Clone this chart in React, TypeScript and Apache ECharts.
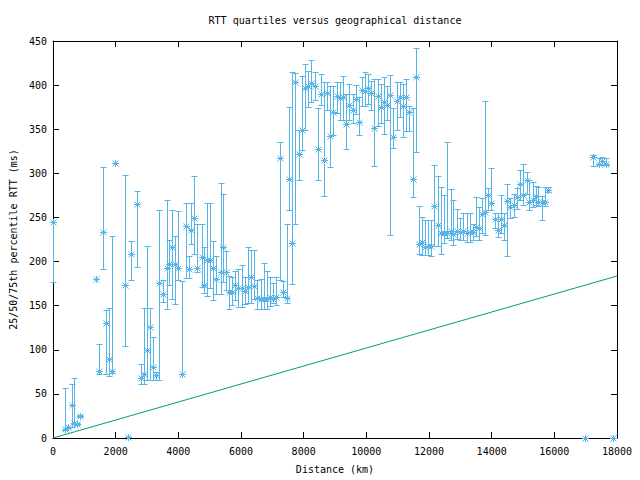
import React, { useEffect, useRef } from "react";
import * as echarts from "echarts";

// Distance (km), median RTT, 25th percentile, 75th percentile (ms)
const distances = [
  0, 380, 490, 596, 681, 756, 862, 1372, 1479, 1607, 1692, 1787, 1883, 1990, 2298, 2404, 2500, 2692, 2809, 2915,
  3010, 3107, 3203, 3298, 3394, 3511, 3628, 3713, 3808, 3904, 4000, 4128, 4234, 4330, 4415, 4511, 4607, 4745, 4820, 4926,
  5011, 5117, 5203, 5352, 5437, 5522, 5628, 5724, 5809, 5915, 6022, 6128, 6224, 6330, 6425, 6521, 6639, 6725, 6821, 6916,
  7032, 7118, 7250, 7351, 7458, 7540, 7640, 7735, 7852, 7948, 8054, 8150, 8245, 8352, 8468, 8564, 8660, 8755, 8851, 8947,
  9055, 9160, 9256, 9352, 9458, 9566, 9662, 9767, 9873, 9969, 10065, 10160, 10256, 10364, 10460, 10565, 10661, 10767, 10862, 10970,
  11075, 11171, 11267, 11373, 11480, 11596, 11692, 11787, 11883, 11979, 12075, 12170, 12288, 12384, 12490, 12585, 12693, 12777, 12884, 12990,
  13096, 13203, 13309, 13395, 13500, 13586, 13692, 13798, 13894, 13990, 14108, 14204, 14300, 14406, 14502, 14597, 14704, 14810, 14916, 15012,
  15119, 15203, 15310, 15416, 15490, 15598, 15703, 15809, 16980, 17245, 17437, 17532, 17640, 17874,
];
const medians = [
  245, 10, 12, 37, 17, 16, 25, 180, 76, 234, 130, 89, 76, 312, 173, 1, 208, 265, 68, 73,
  100, 126, 80, 71, 176, 163, 193, 197, 216, 197, 193, 73, 240, 192, 236, 249, 193, 205, 173, 202,
  202, 193, 180, 188, 216, 188, 165, 165, 173, 170, 170, 167, 171, 183, 172, 159, 158, 158, 158, 160,
  158, 160, 317, 165, 159, 294, 221, 404, 322, 349, 397, 399, 402, 399, 328, 390, 315, 391, 342, 369,
  388, 385, 386, 356, 378, 372, 384, 358, 394, 393, 397, 391, 351, 388, 375, 381, 377, 389, 341, 382,
  387, 376, 386, 369, 294, 409, 220, 222, 216, 218, 218, 263, 241, 232, 232, 232, 235, 231, 235, 233,
  235, 232, 233, 233, 239, 238, 254, 256, 275, 266, 248, 236, 248, 241, 269, 262, 264, 273, 288, 275,
  293, 267, 270, 274, 268, 267, 267, 281, 0, 318, 311, 314, 311, 0,
];
const q25 = [
  177, 9, 11, 12, 16, 15, 24, 180, 72, 192, 72, 70, 74, 312, 104, 1, 179, 194, 61, 61,
  66, 66, 66, 66, 66, 154, 146, 173, 157, 152, 179, 73, 181, 181, 220, 209, 188, 171, 164, 161,
  170, 156, 163, 163, 177, 168, 146, 151, 156, 149, 149, 152, 153, 153, 157, 146, 146, 146, 146, 150,
  153, 151, 179, 160, 153, 258, 175, 243, 293, 326, 349, 375, 381, 383, 293, 377, 274, 372, 307, 343,
  368, 361, 361, 328, 360, 357, 367, 343, 376, 376, 379, 372, 308, 354, 357, 345, 361, 230, 329, 349,
  364, 341, 348, 348, 273, 324, 209, 207, 207, 207, 206, 218, 218, 208, 221, 227, 225, 219, 226, 224,
  224, 222, 222, 224, 229, 225, 232, 230, 258, 259, 238, 228, 232, 224, 206, 249, 251, 260, 270, 264,
  277, 258, 262, 264, 263, 247, 263, 279, 0, 308, 309, 310, 309, 0,
];
const q75 = [
  245, 57, 13, 61, 68, 17, 26, 180, 106, 307, 145, 147, 229, 312, 298, 1, 223, 280, 84, 147,
  218, 147, 114, 75, 259, 179, 270, 224, 258, 229, 257, 178, 266, 206, 266, 297, 243, 243, 217, 266,
  266, 223, 206, 289, 277, 212, 184, 183, 189, 191, 196, 183, 217, 213, 213, 179, 180, 198, 189, 182,
  176, 183, 335, 178, 243, 375, 415, 414, 349, 410, 424, 416, 428, 415, 374, 413, 403, 403, 399, 399,
  403, 403, 410, 390, 401, 390, 400, 387, 409, 415, 413, 405, 407, 407, 401, 409, 399, 411, 374, 403,
  403, 401, 407, 376, 374, 442, 263, 251, 247, 247, 247, 310, 297, 285, 276, 335, 282, 270, 260, 249,
  255, 255, 255, 243, 273, 262, 272, 382, 283, 306, 255, 255, 276, 255, 288, 272, 277, 283, 304, 311,
  302, 292, 290, 286, 284, 274, 284, 284, 0, 321, 317, 318, 317, 0,
];

// Reference line (speed-of-light-in-fibre bound)
const lineX = [0, 18000];
const lineY = [0, 183.6];

const xTicks = { min: 0, max: 18000, interval: 2000 };
const yTicks = { min: 0, max: 450, interval: 50 };

const BLUE = "#56b4e9";
const GREEN = "#009e73";
const FONT = "DejaVu Sans Mono";

export default function App() {
  const ref = useRef<HTMLDivElement>(null);
  useEffect(() => {
    if (!ref.current) return;
    const chart = echarts.init(ref.current, undefined, { renderer: "svg" });
    const errData = distances.map((d, i) => [d, medians[i], q25[i], q75[i]]);
    const lineData = lineX.map((x, i) => [x, lineY[i]]);

    const axisCommon = {
      axisLine: { show: true, onZero: false, lineStyle: { color: "#000", width: 1 } },
      axisTick: { show: true, inside: true, length: 6, lineStyle: { color: "#000" } },
      splitLine: { show: false },
    };

    const renderItem = (params: any, api: any) => {
      const x = api.value(0);
      const m = api.value(1);
      const lo = api.value(2);
      const hi = api.value(3);
      const pm = api.coord([x, m]);
      const pl = api.coord([x, lo]);
      const ph = api.coord([x, hi]);
      const cx = Math.round(pm[0]) + 0.5;
      const cy = Math.round(pm[1]) + 0.5;
      const yl = Math.round(pl[1]) + 0.5;
      const yh = Math.round(ph[1]) + 0.5;
      const cap = 3;
      const r = 3.5;
      const st = { stroke: BLUE, lineWidth: 1, fill: null };
      const children: any[] = [
        { type: "line", shape: { x1: cx, y1: yl, x2: cx, y2: yh }, style: st },
        { type: "line", shape: { x1: cx - cap, y1: yl, x2: cx + cap, y2: yl }, style: st },
        { type: "line", shape: { x1: cx - cap, y1: yh, x2: cx + cap, y2: yh }, style: st },
        { type: "line", shape: { x1: cx - r, y1: cy, x2: cx + r, y2: cy }, style: st },
        { type: "line", shape: { x1: cx, y1: cy - r, x2: cx, y2: cy + r }, style: st },
        { type: "line", shape: { x1: cx - r + 0.5, y1: cy - r + 0.5, x2: cx + r - 0.5, y2: cy + r - 0.5 }, style: st },
        { type: "line", shape: { x1: cx - r + 0.5, y1: cy + r - 0.5, x2: cx + r - 0.5, y2: cy - r + 0.5 }, style: st },
      ];
      return { type: "group", children };
    };

    chart.setOption({
      animation: false,
      backgroundColor: "#fff",
      textStyle: { fontFamily: FONT },
      grid: { left: 53, right: 23, top: 41, bottom: 42, containLabel: false },
      graphic: [
        {
          type: "text",
          x: 335,
          y: 20,
          style: {
            text: "RTT quartiles versus geographical distance",
            font: `10px '${FONT}'`,
            fill: "#000",
            textAlign: "center",
            textVerticalAlign: "middle",
          },
        },
      ],
      xAxis: [
        {
          type: "value",
          position: "bottom",
          ...xTicks,
          ...axisCommon,
          name: "Distance (km)",
          nameLocation: "middle",
          nameGap: 26,
          nameTextStyle: { fontFamily: FONT, fontSize: 10, color: "#000" },
          axisLabel: {
            fontFamily: FONT,
            fontSize: 10,
            color: "#000",
            margin: 8,
            formatter: (v: number) => String(v),
          },
        },
        {
          type: "value",
          position: "top",
          ...xTicks,
          ...axisCommon,
          axisLabel: { show: false },
        },
      ],
      yAxis: [
        {
          type: "value",
          position: "left",
          ...yTicks,
          ...axisCommon,
          name: "25/50/75th percentile RTT (ms)",
          nameLocation: "middle",
          nameGap: 34,
          nameTextStyle: { fontFamily: FONT, fontSize: 10, color: "#000" },
          axisLabel: {
            fontFamily: FONT,
            fontSize: 10,
            color: "#000",
            margin: 6,
            formatter: (v: number) => String(v),
          },
        },
        {
          type: "value",
          position: "right",
          ...yTicks,
          ...axisCommon,
          axisLabel: { show: false },
        },
      ],
      series: [
        {
          type: "custom",
          name: "RTT quartiles",
          renderItem,
          data: errData,
          encode: { x: 0, y: [1, 2, 3] },
          clip: false,
          z: 5,
        },
        {
          type: "line",
          name: "bound",
          data: lineData,
          showSymbol: false,
          symbol: "none",
          lineStyle: { color: GREEN, width: 1 },
          z: 6,
        },
      ],
    });
    return () => chart.dispose();
  }, []);

  return (
    <div
      ref={ref}
      style={{ position: "absolute", left: 0, top: 0, width: 640, height: 480, background: "#fff" }}
    />
  );
}
